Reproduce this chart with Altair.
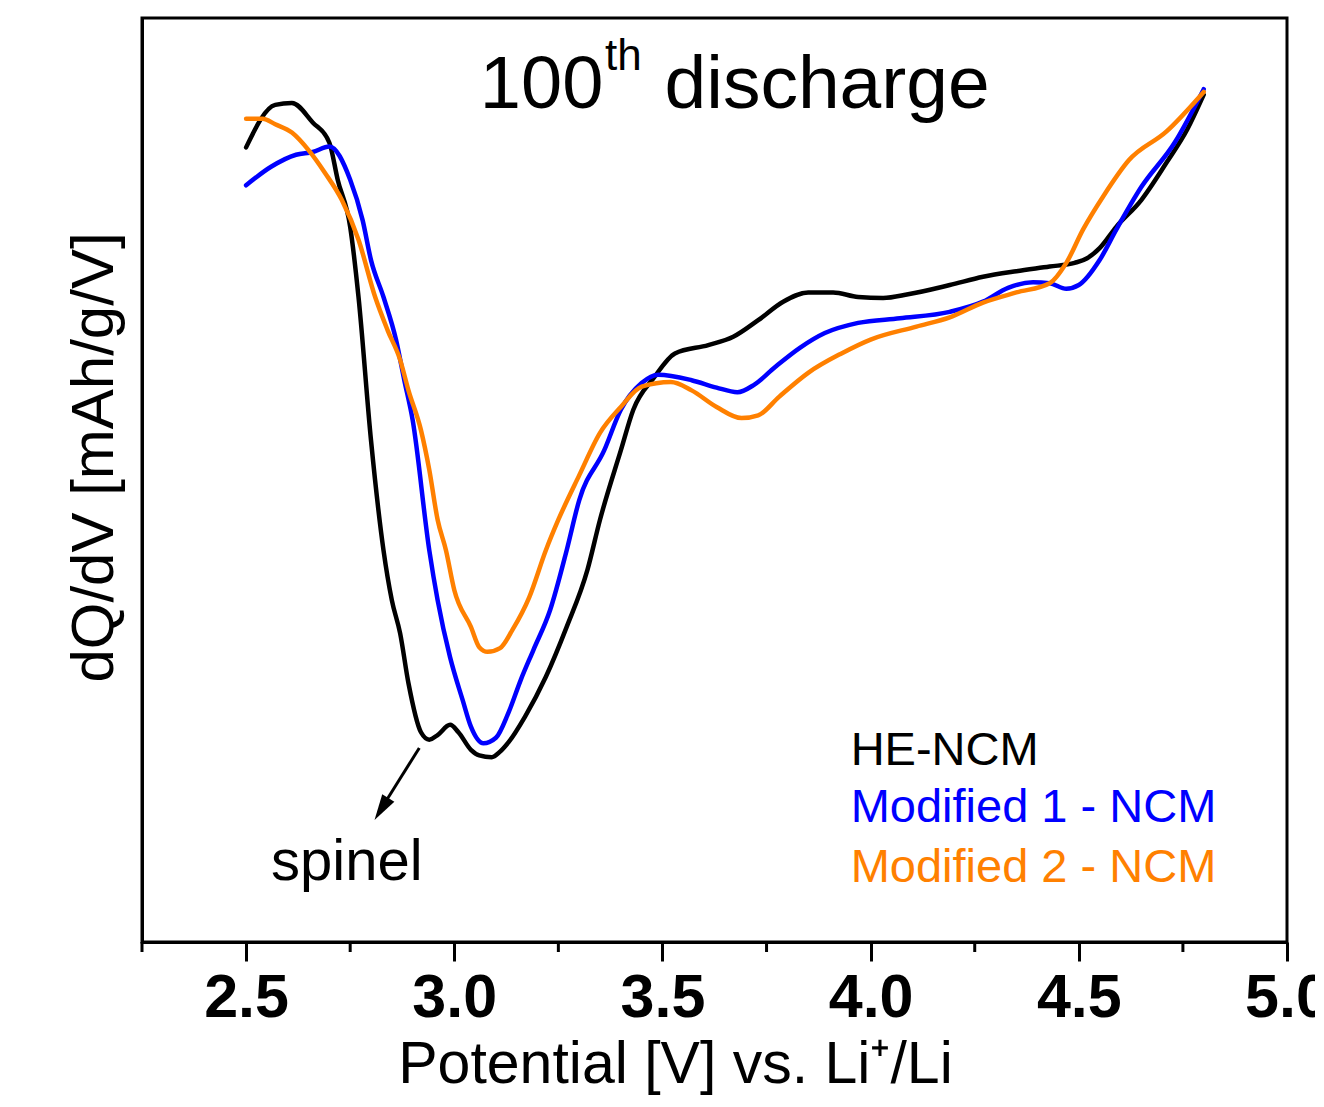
import altair as alt
import pandas as pd

# ---- data (dQ/dV in arbitrary units) ----
series_names = ["HE-NCM", "Modified 1 - NCM", "Modified 2 - NCM"]
series_colors = ["#000000", "#0000FF", "#FF8000"]

he_v = [2.50, 2.57, 2.61, 2.66, 2.70, 2.72, 2.75, 2.77, 2.80, 2.83, 2.85, 2.87, 2.89, 2.92, 2.94, 2.96,
        2.99, 3.01, 3.04, 3.06, 3.09, 3.11, 3.13, 3.17, 3.22, 3.27, 3.32, 3.35, 3.40, 3.43, 3.48, 3.53,
        3.61, 3.67, 3.73, 3.79, 3.85, 3.91, 3.97, 4.03, 4.09, 4.19, 4.27, 4.35, 4.43, 4.49, 4.52, 4.55,
        4.59, 4.65, 4.71, 4.76, 4.80]
he_y = [86.0, 90.6, 90.8, 88.7, 86.5, 82.5, 77.4, 69.8, 54.3, 42.4, 37.0, 33.4, 28.0, 22.7, 21.9, 22.4,
        23.5, 22.7, 20.8, 20.2, 20.0, 20.6, 21.6, 24.4, 28.7, 34.1, 40.3, 45.7, 53.2, 57.6, 61.1, 63.7,
        64.6, 65.5, 67.3, 69.3, 70.3, 70.3, 69.8, 69.7, 70.1, 71.1, 72.0, 72.6, 73.1, 73.5, 74.0, 75.1,
        77.4, 80.3, 84.3, 87.9, 91.7]

m1_v = [2.50, 2.56, 2.62, 2.66, 2.70, 2.75, 2.78, 2.80, 2.83, 2.86, 2.88, 2.90, 2.94, 2.96, 2.99, 3.02,
        3.04, 3.07, 3.10, 3.13, 3.16, 3.19, 3.23, 3.27, 3.30, 3.36, 3.40, 3.45, 3.49, 3.57, 3.63, 3.68,
        3.72, 3.77, 3.83, 3.89, 3.97, 4.07, 4.19, 4.27, 4.33, 4.39, 4.43, 4.47, 4.50, 4.55, 4.59, 4.65,
        4.73, 4.80]
m1_y = [81.9, 83.9, 85.2, 85.5, 86.1, 82.5, 78.1, 73.8, 69.8, 65.2, 60.8, 56.5, 42.4, 37.0, 30.8, 26.2,
        23.3, 21.5, 22.1, 24.8, 28.4, 31.6, 35.9, 42.4, 47.8, 53.2, 57.6, 60.5, 61.4, 60.8, 60.0, 59.5,
        60.3, 62.2, 64.3, 65.9, 67.0, 67.5, 68.2, 69.3, 70.8, 71.4, 71.3, 70.7, 71.1, 73.8, 77.1, 81.7,
        86.5, 92.3]

m2_v = [2.50, 2.54, 2.57, 2.61, 2.65, 2.69, 2.73, 2.77, 2.81, 2.84, 2.87, 2.89, 2.92, 2.94, 2.96, 2.98,
        3.00, 3.04, 3.06, 3.08, 3.11, 3.14, 3.18, 3.22, 3.25, 3.30, 3.35, 3.40, 3.45, 3.52, 3.57, 3.63,
        3.69, 3.73, 3.78, 3.85, 3.93, 4.00, 4.11, 4.19, 4.27, 4.35, 4.43, 4.47, 4.51, 4.56, 4.62, 4.71,
        4.80]
m2_y = [89.1, 89.1, 88.5, 87.6, 85.7, 83.2, 80.3, 76.0, 69.8, 66.2, 63.0, 59.7, 55.4, 51.1, 45.7, 42.4,
        38.1, 34.1, 31.9, 31.4, 31.8, 33.8, 37.3, 42.4, 45.7, 50.5, 55.1, 57.9, 60.1, 60.6, 59.7, 57.9,
        56.7, 57.0, 59.0, 61.6, 63.7, 65.2, 66.6, 67.6, 69.2, 70.3, 71.3, 73.5, 77.1, 80.8, 84.6, 87.7,
        92.0]

major_ticks = [2.5, 3.0, 3.5, 4.0, 4.5, 5.0]
minor_ticks = [2.25, 2.75, 3.25, 3.75, 4.25, 4.75]

FONT = "Liberation Sans"

rows = []
for name, xs, ys in zip(series_names, [he_v, m1_v, m2_v], [he_y, m1_y, m2_y]):
    for i, (a, b) in enumerate(zip(xs, ys)):
        rows.append({"series": name, "V": a, "dQdV": b, "i": i})
df = pd.DataFrame(rows)

xscale = alt.Scale(domain=[2.25, 5.0], nice=False, zero=False)
yscale = alt.Scale(domain=[0, 100], nice=False, zero=False)

x_axis = alt.Axis(
    values=major_ticks, format=".1f", title="Potential [V] vs. Li⁺/Li",
    tickSize=19, tickWidth=3, tickColor="black", domainColor="black", domainWidth=3,
    labelFont=FONT, labelFontSize=61, labelFontWeight="bold", labelColor="black",
    labelPadding=7, labelFlush=False, labelOverlap=False, labelBound=False,
    titleFont=FONT, titleFontSize=59, titleFontWeight="normal", titleColor="black",
    titleX=533, titleY=140, titleAlign="center", titleBaseline="alphabetic", grid=False,
)
y_axis = alt.Axis(
    title="dQ/dV [mAh/g/V]", labels=False, ticks=False, domain=True, domainWidth=3,
    domainColor="black", grid=False,
    titleFont=FONT, titleFontSize=60, titleFontWeight="normal", titleColor="black",
    titleX=-48, titleY=439, titleAngle=270, titleAlign="center", titleBaseline="middle",
)

X = alt.X("V:Q", scale=xscale, axis=x_axis)
Y = alt.Y("dQdV:Q", scale=yscale, axis=y_axis)

lines = alt.Chart(df).mark_line(
    strokeWidth=4.5, strokeJoin="round", strokeCap="round", interpolate="monotone"
).encode(
    x=X,
    y=Y,
    color=alt.Color("series:N", scale=alt.Scale(domain=series_names, range=series_colors), legend=None),
    order="i:Q",
)

minor = alt.Chart(pd.DataFrame({"V": minor_ticks})).mark_rule(color="black", strokeWidth=3).encode(
    x=X,
    y=alt.value(924),
    y2=alt.value(934),
)


def text_layer(df_t, size, color="black", align="left"):
    return alt.Chart(df_t).mark_text(
        font=FONT, fontSize=size, color=color, align=align, baseline="alphabetic"
    ).encode(
        x=X,
        y=Y,
        text="label:N",
    )


title_main = text_layer(pd.DataFrame({"V": [3.358], "dQdV": [90.3], "label": ["100"]}), 74, align="right")
title_sup = text_layer(pd.DataFrame({"V": [3.362], "dQdV": [94.4], "label": ["th"]}), 44)
title_rest = text_layer(pd.DataFrame({"V": [3.505], "dQdV": [90.3], "label": ["discharge"]}), 75)

legend_layers = []
for name, col, yv in zip(series_names, series_colors, [19.2, 13.0, 6.5]):
    legend_layers.append(
        text_layer(pd.DataFrame({"V": [3.952], "dQdV": [yv], "label": [name]}), 47, color=col)
    )

spinel = text_layer(pd.DataFrame({"V": [2.56], "dQdV": [6.7], "label": ["spinel"]}), 58)

arrow_line = alt.Chart(pd.DataFrame({"V": [2.916], "dQdV": [21.0], "V2": [2.838], "dQdV2": [15.4]})).mark_rule(
    color="black", strokeWidth=3
).encode(
    x=X,
    y=Y,
    x2="V2:Q",
    y2="dQdV2:Q",
)
arrow_head = alt.Chart(pd.DataFrame({"V": [2.825], "dQdV": [14.4]})).mark_point(
    shape="M0,-1L0.55,1L-0.55,1Z", size=676, filled=True, color="black", opacity=1, angle=212, strokeWidth=0
).encode(
    x=X,
    y=Y,
)

chart = alt.layer(
    lines, minor, title_main, title_sup, title_rest, *legend_layers, spinel, arrow_line, arrow_head
).properties(
    width=1145,
    height=924,
    padding={"left": 134, "top": 10, "right": 28, "bottom": 153},
    autosize=alt.AutoSizeParams(type="none"),
).configure_view(
    stroke="black", strokeWidth=3
)

chart.save("out.html", embed_options={"renderer": "svg", "actions": False})
